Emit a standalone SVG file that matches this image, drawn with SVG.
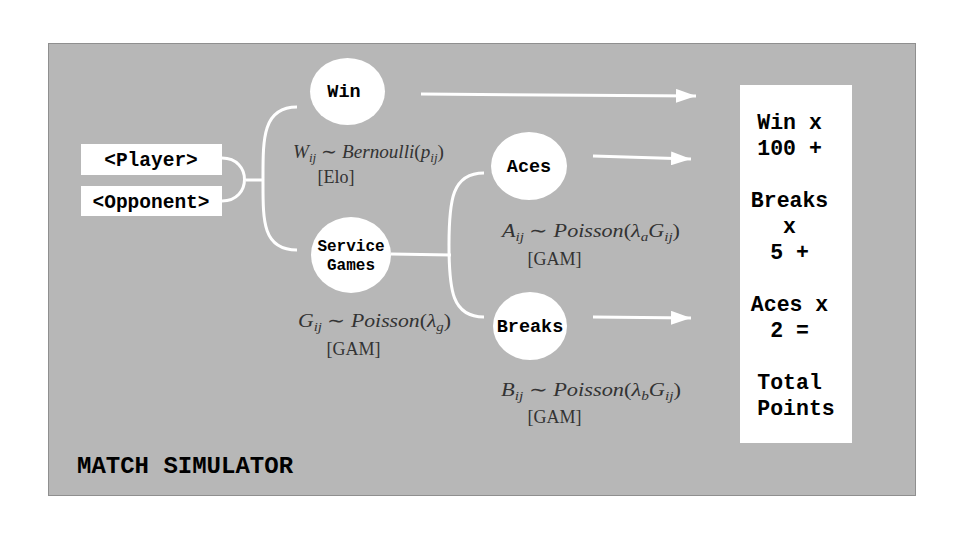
<svg xmlns="http://www.w3.org/2000/svg" width="960" height="540" viewBox="0 0 960 540">
<style>
.mono{font-family:"Liberation Mono","Courier New",monospace;font-weight:bold;fill:#000;text-anchor:middle}
.math{font-family:"Liberation Serif","Times New Roman",serif;fill:#333;font-size:19px}
.br{font-family:"Liberation Serif","Times New Roman",serif;fill:#333;font-size:18px;text-anchor:middle}
.it{font-style:italic}
.sub{font-size:13px;font-style:italic}
.sup{font-size:13px}
.node{fill:#fff}
.conn{fill:none;stroke:#fff;stroke-width:3}
</style>
<defs>
<marker id="ahb" viewBox="0 0 20 14" refX="20" refY="7" markerWidth="20" markerHeight="14" orient="auto" markerUnits="userSpaceOnUse">
<path d="M0,0 L20,7 L0,14 Z" fill="#fff"/>
</marker>
</defs>
<rect width="960" height="540" fill="#fff"/>
<rect x="48.500" y="43.500" width="867" height="452" fill="#b7b7b7" stroke="#8f8f8f" stroke-width="1"/>

<g id="connectors">
<path class="conn" d="M222,158 C252,158 252,201 222,201"/>
<path class="conn" d="M246,180 L263,180"/>
<path class="conn" d="M297,107 C262,107 263,140 263,180 C263,220 262,250 297,250"/>
<path class="conn" d="M391,254 L451,255"/>
<path class="conn" d="M484,173 C452,173 449,200 449,245 C449,290 452,317 484,317"/>
<path class="conn" d="M421,94 L696,96" marker-end="url(#ahb)"/>
<path class="conn" d="M593,156 L691,159" marker-end="url(#ahb)"/>
<path class="conn" d="M593,317 L691,318" marker-end="url(#ahb)"/>
</g>

<g id="player">
<rect class="node" x="81" y="144" width="141" height="31"/>
<text class="mono" x="151" y="166" font-size="19.500">&lt;Player&gt;</text>
</g>
<g id="opponent">
<rect class="node" x="81" y="186" width="141" height="30"/>
<text class="mono" x="151" y="208" font-size="19.500">&lt;Opponent&gt;</text>
</g>

<g id="win">
<ellipse class="node" cx="347.500" cy="91.500" rx="37.500" ry="33.500"/>
<text class="mono" x="344" y="97" font-size="18.500">Win</text>
</g>
<g id="win-label">
<text class="math" x="293" y="158" textLength="151" lengthAdjust="spacingAndGlyphs"><tspan class="it">W</tspan><tspan class="sub" dy="4">ij</tspan><tspan dy="-4"> ∼ </tspan><tspan class="it">Bernoulli</tspan>(<tspan class="it">p</tspan><tspan class="sub" dy="4">ij</tspan><tspan dy="-4">)</tspan></text>
<text class="br" x="336" y="183">[Elo]</text>
</g>

<g id="service-games">
<ellipse class="node" cx="351" cy="255" rx="40" ry="38"/>
<text class="mono" x="351" y="251" font-size="16">Service</text>
<text class="mono" x="351" y="270" font-size="16">Games</text>
</g>
<g id="games-label">
<text class="math" x="298" y="327" textLength="153" lengthAdjust="spacingAndGlyphs"><tspan class="it">G</tspan><tspan class="sub" dy="4">ij</tspan><tspan dy="-4"> ∼ </tspan><tspan class="it">Poisson</tspan>(<tspan class="it">λ</tspan><tspan class="sub" dy="4">g</tspan><tspan dy="-4">)</tspan></text>
<text class="br" x="353.500" y="355">[GAM]</text>
</g>

<g id="aces">
<ellipse class="node" cx="529" cy="166" rx="38" ry="34"/>
<text class="mono" x="529" y="172" font-size="18.500">Aces</text>
</g>
<g id="aces-label">
<text class="math" x="502" y="237" textLength="178" lengthAdjust="spacingAndGlyphs"><tspan class="it">A</tspan><tspan class="sub" dy="4">ij</tspan><tspan dy="-4"> ∼ </tspan><tspan class="it">Poisson</tspan>(<tspan class="it">λ</tspan><tspan class="sub" dy="4">a</tspan><tspan class="it" dy="-4">G</tspan><tspan class="sub" dy="4">ij</tspan><tspan dy="-4">)</tspan></text>
<text class="br" x="554.500" y="265">[GAM]</text>
</g>

<g id="breaks">
<ellipse class="node" cx="530" cy="326" rx="37" ry="34"/>
<text class="mono" x="530" y="332" font-size="18.500">Breaks</text>
</g>
<g id="breaks-label">
<text class="math" x="501" y="396" textLength="180" lengthAdjust="spacingAndGlyphs"><tspan class="it">B</tspan><tspan class="sub" dy="4">ij</tspan><tspan dy="-4"> ∼ </tspan><tspan class="it">Poisson</tspan>(<tspan class="it">λ</tspan><tspan class="sub" dy="4">b</tspan><tspan class="it" dy="-4">G</tspan><tspan class="sub" dy="4">ij</tspan><tspan dy="-4">)</tspan></text>
<text class="br" x="554.500" y="423">[GAM]</text>
</g>

<g id="total">
<rect class="node" x="740" y="85" width="112" height="358"/>
<text class="mono" font-size="21.500">
<tspan x="796" y="129">Win x</tspan>
<tspan x="796" y="155">100 +</tspan>
<tspan x="796" y="207">Breaks</tspan>
<tspan x="796" y="233">x</tspan>
<tspan x="796" y="259">5 +</tspan>
<tspan x="796" y="311">Aces x</tspan>
<tspan x="796" y="337">2 =</tspan>
<tspan x="796" y="389">Total</tspan>
<tspan x="796" y="415">Points</tspan>
</text>
</g>

<g id="title">
<text class="mono" x="77" y="473" font-size="24" style="text-anchor:start">MATCH SIMULATOR</text>
</g>
</svg>
